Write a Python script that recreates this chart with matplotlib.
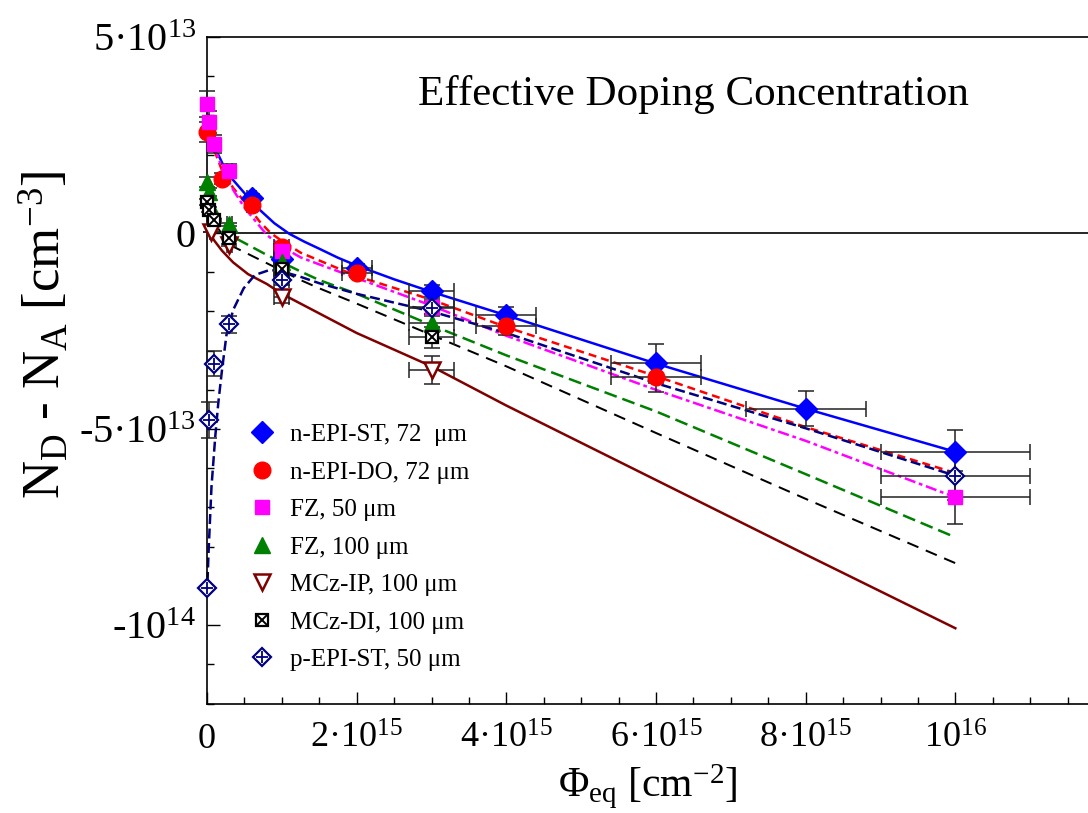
import numpy as np
import matplotlib
matplotlib.use("Agg")
import matplotlib.pyplot as plt
from matplotlib.ticker import MultipleLocator, FixedLocator

plt.rcParams['font.family'] = ['Liberation Serif', 'DejaVu Serif']
plt.rcParams['mathtext.fontset'] = 'custom'
plt.rcParams['mathtext.rm'] = 'Liberation Serif'
plt.rcParams['mathtext.it'] = 'Liberation Serif:italic'

# fluence in 1e15 cm^-2, Neff in 1e13 cm^-3
# --- measured points ---
epi_st_x = [0.6, 1.0, 2.0, 3.0, 4.0, 6.0, 8.0, 10.0]
epi_st_y = [0.9, -0.65, -0.88, -1.47, -2.1, -3.32, -4.48, -5.58]
epi_st_xe = [0.06, 0.1, 0.2, 0.3, 0.4, 0.6, 0.8, 1.0]
epi_st_ye = [0.09, 0.07, 0.09, 0.15, 0.21, 0.5, 0.45, 0.56]

epi_do_x = [0.0, 0.2, 0.6, 1.0, 2.0, 4.0, 6.0]
epi_do_y = [2.58, 1.38, 0.71, -0.35, -1.03, -2.37, -3.68]
epi_do_xe = [0.0, 0.02, 0.06, 0.1, 0.2, 0.4, 0.6]
epi_do_ye = [0.26, 0.14, 0.07, 0.04, 0.1, 0.24, 0.37]

fz50_x = [0.0, 0.03, 0.1, 0.3, 1.0, 3.0, 10.0]
fz50_y = [3.29, 2.82, 2.27, 1.59, -0.45, -1.88, -6.74]
fz50_xe = [0.0, 0.003, 0.01, 0.03, 0.1, 0.3, 1.0]
fz50_ye = [0.33, 0.28, 0.23, 0.16, 0.05, 0.19, 0.67]

fz100_x = [0.0, 0.03, 0.3, 1.0, 3.0]
fz100_y = [1.31, 1.05, 0.22, -0.73, -2.3]
fz100_xe = [0.0, 0.003, 0.03, 0.1, 0.3]
fz100_ye = [0.13, 0.1, 0.03, 0.07, 0.23]

mcz_ip_x = [0.05, 0.3, 1.0, 3.0]
mcz_ip_y = [0.02, -0.31, -1.62, -3.49]
mcz_ip_xe = [0.005, 0.03, 0.1, 0.3]
mcz_ip_ye = [0.0, 0.03, 0.16, 0.35]

mcz_di_x = [0.0, 0.03, 0.1, 0.3, 1.0, 3.0]
mcz_di_y = [0.8, 0.6, 0.33, -0.12, -0.92, -2.66]
mcz_di_xe = [0.0, 0.003, 0.01, 0.03, 0.1, 0.3]
mcz_di_ye = [0.08, 0.06, 0.03, 0.01, 0.09, 0.27]

pepi_x = [0.0, 0.03, 0.09, 0.3, 1.0, 3.0, 10.0]
pepi_y = [-9.06, -4.77, -3.33, -2.33, -1.2, -1.92, -6.19]
pepi_xe = [0.0, 0.003, 0.009, 0.03, 0.1, 0.3, 1.0]
pepi_ye = [0.0, 0.47, 0.32, 0.22, 0.12, 0.19, 0.62]

# --- fit curves ---
fit_st_x = [0.15, 0.25, 0.35, 0.5, 0.7, 0.9, 1.1, 1.3, 1.5, 1.75, 2.0, 2.5, 3.0, 4.0, 6.0, 8.0, 10.0]
fit_st_y = [2.0, 1.6, 1.35, 1.02, 0.6, 0.25, -0.02, -0.22, -0.4, -0.63, -0.83, -1.18, -1.5, -2.1, -3.33, -4.48, -5.58]

fit_do_x = [0.1, 0.2, 0.35, 0.5, 0.7, 0.85, 1.0, 1.25, 1.5, 2.0, 3.0, 4.0, 6.0, 8.0, 10.0]
fit_do_y = [2.1, 1.6, 1.15, 0.8, 0.3, 0.0, -0.2, -0.5, -0.7, -1.1, -1.7, -2.4, -3.65, -4.95, -6.12]

fit_fz50_x = [0.1, 0.2, 0.35, 0.5, 0.65, 0.8, 1.0, 1.25, 1.5, 2.0, 3.0, 4.0, 6.0, 8.0, 10.0]
fit_fz50_y = [2.2, 1.65, 1.1, 0.65, 0.3, -0.05, -0.35, -0.62, -0.8, -1.15, -1.85, -2.62, -4.0, -5.3, -6.74]

fit_fz100_x = [0.02, 0.1, 0.2, 0.4, 0.8, 1.25, 1.5, 2.0, 3.0, 4.0, 6.0, 8.0, 10.0]
fit_fz100_y = [1.1, 0.65, 0.3, -0.15, -0.56, -0.98, -1.2, -1.55, -2.35, -3.12, -4.55, -6.15, -7.76]

fit_di_x = [0.02, 0.1, 0.3, 0.8, 1.25, 1.5, 2.0, 3.0, 4.0, 6.0, 8.0, 10.0]
fit_di_y = [0.55, 0.25, -0.3, -0.77, -1.2, -1.41, -1.8, -2.6, -3.4, -5.1, -6.78, -8.42]

fit_ip_x = [0.0, 0.05, 0.1, 0.2, 0.35, 0.55, 0.8, 1.0, 1.25, 1.5, 2.0, 3.0, 4.0, 6.0, 8.0, 10.0]
fit_ip_y = [0.3, -0.05, -0.2, -0.45, -0.75, -1.05, -1.3, -1.55, -1.8, -2.05, -2.55, -3.4, -4.4, -6.3, -8.2, -10.08]

fit_pepi_x = [0.0, 0.02, 0.06, 0.11, 0.15, 0.2, 0.26, 0.35, 0.49, 0.64, 0.84, 1.0, 1.24, 1.5, 2.0, 3.0, 4.0, 6.0, 8.0, 10.0]
fit_pepi_y = [-9.27, -8.17, -6.47, -5.2, -4.35, -3.5, -2.6, -1.96, -1.41, -1.07, -0.94, -0.98, -1.11, -1.28, -1.55, -2.0, -2.55, -3.83, -4.98, -6.19]

labels = ['n-EPI-ST, 72  \u03bcm', 'n-EPI-DO, 72 \u03bcm', 'FZ, 50 \u03bcm', 'FZ, 100 \u03bcm',
          'MCz-IP, 100 \u03bcm', 'MCz-DI, 100 \u03bcm', 'p-EPI-ST, 50 \u03bcm']

x_ticks = [0, 2, 4, 6, 8, 10]
x_ticklabels = ['0', '2\u00b710$^{15}$', '4\u00b710$^{15}$', '6\u00b710$^{15}$', '8\u00b710$^{15}$', '10$^{16}$']
y_ticks = [5, 0, -5, -10]
y_ticklabels = ['5\u00b710$^{13}$', '0', '-5\u00b710$^{13}$', '-10$^{14}$']

fig = plt.figure(figsize=(10.88, 8.13), dpi=100)
W, H = 1088.0, 813.0
ax = fig.add_axes([207 / W, 1 - 703.5 / H, 898 / W, 666.5 / H])
ax.set_xlim(0, 12)
ax.set_ylim(-12, 5)

ax.axhline(0, color='k', lw=1.2, zorder=1)

lw = 1.8
ax.plot(fit_st_x, fit_st_y, color='#0000ff', lw=lw, zorder=2)
ax.plot(fit_do_x, fit_do_y, color='#ff0000', lw=lw, dashes=(3.2, 2.0), zorder=2)
ax.plot(fit_fz50_x, fit_fz50_y, color='#ff00ff', lw=lw, dashes=(4.5, 1.5, 1.5, 1.5), zorder=2)
ax.plot(fit_fz100_x, fit_fz100_y, color='#008000', lw=lw, dashes=(5.2, 2.4), zorder=2)
ax.plot(fit_di_x, fit_di_y, color='k', lw=lw * 0.8, dashes=(6, 4), zorder=2)
ax.plot(fit_ip_x, fit_ip_y, color='#800000', lw=lw, zorder=2)
ax.plot(fit_pepi_x, fit_pepi_y, color='#000080', lw=lw, dashes=(4, 1.8), zorder=2, clip_on=False)

eb = dict(fmt='none', ecolor='#222222', elinewidth=1.1, capsize=6, capthick=1.1, zorder=3, clip_on=False)
for xs, ys, xe, ye in [(epi_st_x, epi_st_y, epi_st_xe, epi_st_ye),
                       (epi_do_x, epi_do_y, epi_do_xe, epi_do_ye),
                       (fz50_x, fz50_y, fz50_xe, fz50_ye),
                       (fz100_x, fz100_y, fz100_xe, fz100_ye),
                       (mcz_ip_x, mcz_ip_y, mcz_ip_xe, mcz_ip_ye),
                       (mcz_di_x, mcz_di_y, mcz_di_xe, mcz_di_ye),
                       (pepi_x, pepi_y, pepi_xe, pepi_ye)]:
    ax.errorbar(xs, ys, xerr=xe, yerr=ye, **eb)

mk = dict(ls='none', zorder=4, clip_on=False)
h1, = ax.plot(epi_st_x, epi_st_y, 'D', color='#0000ff', ms=11, **mk)
h2, = ax.plot(epi_do_x, epi_do_y, 'o', color='#ff0000', ms=12, **mk)
h3, = ax.plot(fz50_x, fz50_y, 's', color='#ff00ff', ms=10, **mk)
h4, = ax.plot(fz100_x, fz100_y, '^', color='#008000', ms=11, **mk)
h5, = ax.plot(mcz_ip_x, mcz_ip_y, 'v', mfc='white', mec='#800000', mew=1.8, ms=11, **mk)
h6a, = ax.plot(mcz_di_x, mcz_di_y, 's', mfc='white', mec='k', mew=1.6, ms=9, **mk)
h6b, = ax.plot(mcz_di_x, mcz_di_y, 'x', color='k', mew=1.4, ms=7, **mk)
h7a, = ax.plot(pepi_x, pepi_y, 'D', mfc='white', mec='#000080', mew=1.6, ms=9, **mk)
h7b, = ax.plot(pepi_x, pepi_y, '+', color='#000080', mew=1.3, ms=8, **mk)

ax.legend([h1, h2, h3, h4, h5, (h6a, h6b), (h7a, h7b)], labels,
          loc='upper left', bbox_to_anchor=(0.047, 0.42), frameon=False,
          fontsize=18, handlelength=1.0, handletextpad=0.65, labelspacing=0.6,
          borderpad=0, borderaxespad=0)

ax.xaxis.set_major_locator(FixedLocator(x_ticks))
ax.set_xticklabels(x_ticklabels, fontsize=26)
ax.xaxis.set_minor_locator(MultipleLocator(0.5))
ax.yaxis.set_major_locator(FixedLocator(y_ticks))
ax.set_yticklabels(y_ticklabels, fontsize=29)
ax.yaxis.set_minor_locator(MultipleLocator(1))
ax.tick_params(which='both', direction='in', top=False, right=False, width=1.0)
ax.tick_params(which='major', length=9)
ax.tick_params(which='minor', length=5)
ax.tick_params(axis='x', pad=14)
ax.tick_params(axis='y', pad=8)
for s in ax.spines.values():
    s.set_linewidth(1.2)

fig.text(45 / W, 1 - 335 / H, 'N$_{\\rm D}$ - N$_{\\rm A}$ [cm$^{-3}$]', rotation=90,
         ha='center', va='center', fontsize=38)
fig.text(648 / W, 1 - 787 / H, '\u03a6$_{\\rm eq}$ [cm$^{-2}$]', ha='center', va='center', fontsize=30)
fig.text(418 / W, 1 - 95 / H, 'Effective Doping Concentration', ha='left', va='center', fontsize=31)

fig.savefig('out.png', dpi=100)
